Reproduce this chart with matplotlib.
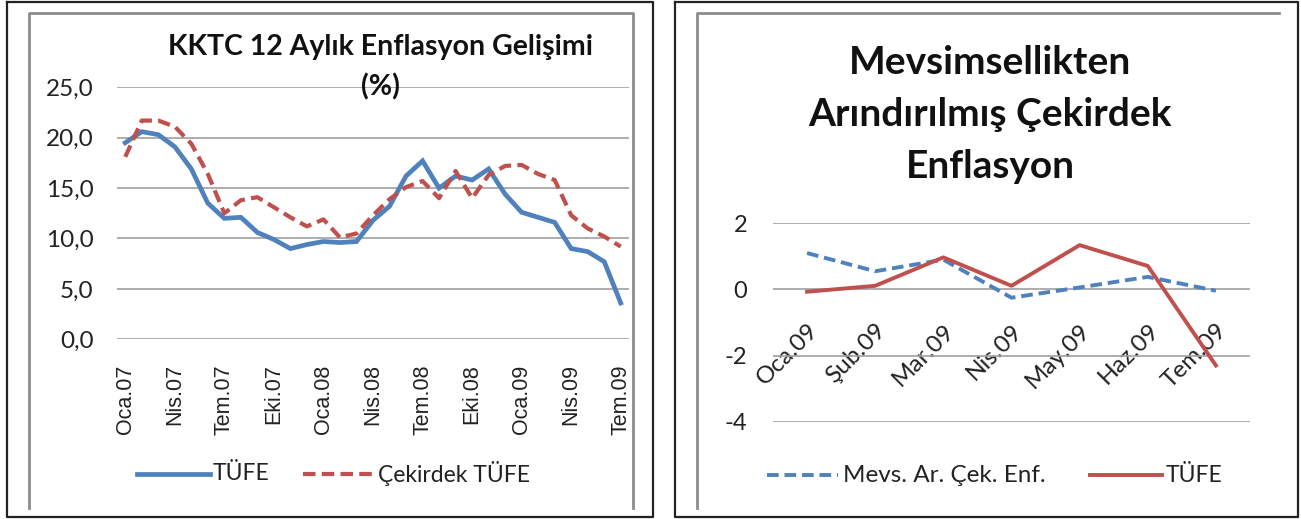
import matplotlib
matplotlib.use("Agg")
import matplotlib.pyplot as plt
from matplotlib.lines import Line2D
import numpy as np

# ---------------- data ----------------
months_left = ["Oca.07", "Şub.07", "Mar.07", "Nis.07", "May.07", "Haz.07", "Tem.07", "Ağu.07",
               "Eyl.07", "Eki.07", "Kas.07", "Ara.07", "Oca.08", "Şub.08", "Mar.08", "Nis.08",
               "May.08", "Haz.08", "Tem.08", "Ağu.08", "Eyl.08", "Eki.08", "Kas.08", "Ara.08",
               "Oca.09", "Şub.09", "Mar.09", "Nis.09", "May.09", "Haz.09", "Tem.09"]
tufe_left = [19.5, 20.6, 20.3, 19.1, 16.9, 13.5, 12.0, 12.1, 10.6, 9.9, 9.0, 9.4, 9.7, 9.6, 9.7,
             11.8, 13.2, 16.2, 17.7, 15.0, 16.2, 15.8, 16.9, 14.4, 12.6, 12.1, 11.6, 9.0, 8.7, 7.7, 3.6]
cekirdek_left = [18.1, 21.7, 21.7, 21.1, 19.4, 16.4, 12.5, 13.8, 14.1, 13.1, 12.1, 11.2, 11.9, 10.1,
                 10.5, 12.3, 13.9, 15.1, 15.7, 14.0, 16.7, 14.0, 16.3, 17.2, 17.3, 16.4, 15.8,
                 12.3, 11.0, 10.2, 9.2]
left_tick_idx = [0, 3, 6, 9, 12, 15, 18, 21, 24, 27, 30]
left_yticks = [0, 5, 10, 15, 20, 25]

months_right = ["Oca.09", "Şub.09", "Mar.09", "Nis.09", "May.09", "Haz.09", "Tem.09"]
mevs_right = [1.1, 0.55, 0.9, -0.25, 0.06, 0.38, -0.04]
tufe_right = [-0.07, 0.11, 0.97, 0.11, 1.34, 0.71, -2.3]
right_yticks = [-4, -2, 0, 2]

BLUE = "#4F81BD"
RED = "#C0504D"
GRID = "#a0a0a0"
CAL = ["Lato", "DejaVu Sans"]
ARIAL = ["Liberation Sans", "DejaVu Sans"]

W, H = 1301, 519
fig = plt.figure(figsize=(W / 100, H / 100), dpi=100)
fig.patch.set_facecolor("white")


def fx(x):
    return x / W


def fy(y):
    return 1 - y / H


def axes_px(x0, y0, x1, y1):
    return fig.add_axes([fx(x0), fy(y1), (x1 - x0) / W, (y1 - y0) / H])


def fline(xs, ys, **kw):
    fig.add_artist(Line2D([fx(x) for x in xs], [fy(y) for y in ys], transform=fig.transFigure, **kw))


# ---------------- frames ----------------
for (x0, x1) in [(7, 653), (675, 1298)]:
    fline([x0, x1, x1, x0, x0], [2, 2, 517, 517, 2], color="#222222", lw=1.6)
# inner gray frames
fline([29, 29, 633, 633], [508, 13, 13, 508], color="#8c8c8c", lw=2.0)
fline([697, 697, 1279], [508, 13, 13], color="#8c8c8c", lw=2.0)

# ---------------- left chart ----------------
axL = axes_px(117, 87.3, 629, 339.3)
xl = np.arange(len(months_left))
axL.plot(xl, tufe_left, color=BLUE, lw=3.4, solid_joinstyle="miter", label="TÜFE")
axL.plot(xl, cekirdek_left, color=RED, lw=3.0, dashes=(3.0, 1.5), label="Çekirdek TÜFE")
axL.set_xlim(-0.5, len(months_left) - 0.5)
axL.set_ylim(0, 25)
axL.set_yticks(left_yticks)
axL.set_yticklabels([f"{v:.1f}".replace(".", ",") for v in left_yticks],
                    fontfamily=CAL, fontsize=17.5, color="#222222")
axL.set_xticks(left_tick_idx)
axL.set_xticklabels([months_left[i] for i in left_tick_idx], rotation=90,
                    fontfamily=ARIAL, fontsize=15.5, color="#222222")
axL.tick_params(axis="both", length=0)
axL.tick_params(axis="y", pad=17)
axL.tick_params(axis="x", pad=18)
axL.grid(axis="y", color=GRID, lw=1.2)
axL.set_axisbelow(True)
for s in axL.spines.values():
    s.set_visible(False)
axL.patch.set_alpha(0)

fig.text(fx(381), fy(47), "KKTC 12 Aylık Enflasyon Gelişimi", fontfamily=CAL, fontweight="bold",
         fontsize=20.5, ha="center", va="center", color="#111111")
fig.text(fx(380), fy(87), "(%)", fontfamily=CAL, fontweight="bold",
         fontsize=20.5, ha="center", va="center", color="#111111")

# legend left
fline([137, 210], [474, 474], color=BLUE, lw=3.4)
fig.text(fx(213), fy(474), "TÜFE", fontfamily=CAL, fontsize=16.5, va="center", ha="left", color="#222222")
fline([303, 375], [474, 474], color=RED, lw=3.0, dashes=(3.0, 1.5))
fig.text(fx(378), fy(474), "Çekirdek TÜFE", fontfamily=CAL, fontsize=16.5, va="center", ha="left", color="#222222")

# ---------------- right chart ----------------
axR = axes_px(773, 223.3, 1250, 421.7)
axR.spines["bottom"].set_position(("data", 0))
xr = np.arange(len(months_right))
axR.plot(xr, mevs_right, color=BLUE, lw=2.8, dashes=(3.0, 1.5), label="Mevs. Ar. Çek. Enf.")
axR.plot(xr, tufe_right, color=RED, lw=2.8, label="TÜFE")
axR.set_xlim(-0.5, len(months_right) - 0.5)
axR.set_ylim(-4, 2)
axR.set_yticks(right_yticks)
axR.set_yticklabels([str(v) for v in right_yticks], fontfamily=CAL, fontsize=17, color="#222222")
axR.set_xticks(xr)
axR.set_xticklabels(months_right, rotation=45, ha="right", va="top", rotation_mode="anchor",
                    fontfamily=CAL, fontsize=17.5, color="#222222")
axR.tick_params(axis="both", length=0)
axR.tick_params(axis="y", pad=18.5)
axR.tick_params(axis="x", pad=22)
axR.grid(axis="y", color=GRID, lw=1.2)
axR.set_axisbelow(True)
for s in axR.spines.values():
    s.set_visible(False)
axR.patch.set_alpha(0)

for txt, yy in [("Mevsimsellikten", 62), ("Arındırılmış Çekirdek", 115), ("Enflasyon", 166)]:
    fig.text(fx(990), fy(yy), txt, fontfamily=CAL, fontweight="bold", fontsize=28,
             ha="center", va="center", color="#111111")

# legend right
fline([767, 838], [475, 475], color=BLUE, lw=2.8, dashes=(3.0, 1.5))
fig.text(fx(843), fy(475), "Mevs. Ar. Çek. Enf.", fontfamily=CAL, fontsize=17.5, va="center", ha="left", color="#222222")
fline([1090, 1162], [475, 475], color=RED, lw=2.8)
fig.text(fx(1166), fy(475), "TÜFE", fontfamily=CAL, fontsize=16.5, va="center", ha="left", color="#222222")

fig.savefig("out.png", dpi=100, facecolor="white")
